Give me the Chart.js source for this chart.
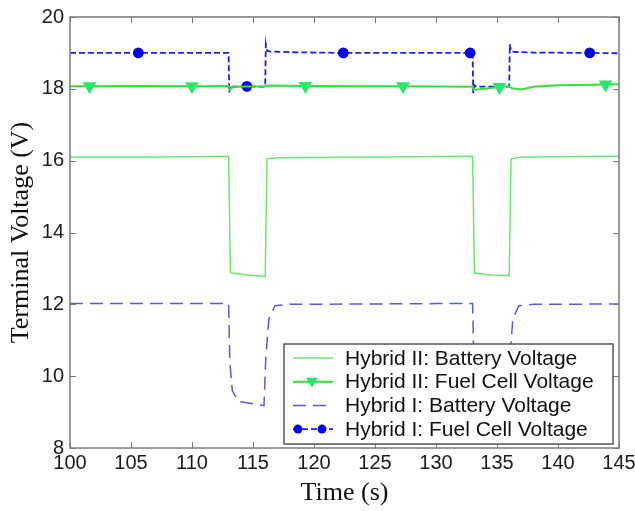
<!DOCTYPE html>
<html>
<head>
<meta charset="utf-8">
<script src="https://cdn.jsdelivr.net/npm/chart.js@4.4.0/dist/chart.umd.min.js"></script>
<style>
  html, body { margin: 0; padding: 0; background: #fff; }
</style>
</head>
<body>
<canvas id="chartVoltage" width="635" height="511"></canvas>
<script>
// Hybrid II: bateria
const timeBatt2 = [100, 105, 110, 113.0, 113.15, 114.5, 116.0, 116.15, 117, 125, 133.0, 133.15, 134.5, 136.0, 136.15, 137, 145];
const voltBatt2 = [16.1, 16.1, 16.11, 16.12, 12.88, 12.82, 12.78, 16.05, 16.08, 16.1, 16.12, 12.87, 12.82, 12.8, 16.05, 16.1, 16.12];

// Hybrid II: célula de combustível
const timeFuel2 = [100, 101.6, 105, 110, 113.0, 113.1, 113.4, 116.0, 116.2, 119.3, 125, 127.3, 133.0, 133.1, 135.2, 136.0, 136.2, 137, 138, 140, 143.9, 145];
const voltFuel2 = [18.07, 18.07, 18.08, 18.07, 18.08, 17.98, 18.06, 18.07, 18.09, 18.08, 18.07, 18.07, 18.06, 17.97, 18.05, 18.07, 18.02, 17.98, 18.06, 18.1, 18.12, 18.13];
const markFuel2 = [101.6, 110, 119.3, 127.3, 135.2, 143.9];

// Hybrid I: bateria
const timeBatt1 = [100, 113.0, 113.1, 113.3, 113.8, 115.9, 116.05, 116.3, 116.8, 118, 130, 133.0, 133.1, 133.3, 133.8, 135.9, 136.05, 136.3, 136.8, 138, 145];
const voltBatt1 = [12.02, 12.02, 10.4, 9.6, 9.3, 9.18, 10.5, 11.6, 11.96, 12.0, 12.02, 12.02, 10.4, 9.6, 9.3, 9.18, 10.5, 11.6, 11.96, 12.0, 12.01];

// Hybrid I: célula de combustível
const timeFuel1 = [100, 105.6, 113.0, 113.05, 113.15, 113.3, 114.5, 116.0, 116.05, 116.15, 116.4, 118, 122.4, 130, 132.8, 133.0, 133.05, 133.15, 133.3, 135, 136.0, 136.05, 136.15, 136.4, 138, 142.6, 145];
const voltFuel1 = [19.0, 19.0, 19.0, 17.9, 18.1, 18.06, 18.07, 18.06, 19.24, 19.06, 19.04, 19.02, 19.0, 19.0, 19.0, 19.0, 17.88, 18.1, 18.06, 18.06, 18.06, 19.24, 19.04, 19.03, 19.01, 19.0, 18.99];
const markFuel1 = [105.6, 114.5, 122.4, 132.8, 142.6];

const xTicks = [100, 105, 110, 115, 120, 125, 130, 135, 140, 145];
const yTicks = [8, 10, 12, 14, 16, 18, 20];

const legendLabels = [
  'Hybrid II: Battery Voltage',
  'Hybrid II: Fuel Cell Voltage',
  'Hybrid I: Battery Voltage',
  'Hybrid I: Fuel Cell Voltage'
];

const toPoints = (times, volts) => times.map((t, i) => ({ x: t, y: volts[i] }));
const markerRadius = (times, marks, r) => times.map(t => marks.includes(t) ? r : 0);

// frame + ticks para dentro (estilo matlab)
const framePlugin = {
  id: 'frame',
  afterDatasetsDraw(chart) {
    const { ctx, chartArea: a, scales } = chart;
    ctx.save();
    ctx.strokeStyle = '#7a7a7a';
    ctx.lineWidth = 1.5;
    ctx.strokeRect(a.left, a.top, a.right - a.left, a.bottom - a.top);
    ctx.lineWidth = 1;
    ctx.beginPath();
    xTicks.forEach(v => {
      const px = Math.round(scales.x.getPixelForValue(v)) + 0.5;
      ctx.moveTo(px, a.bottom); ctx.lineTo(px, a.bottom - 6);
      ctx.moveTo(px, a.top); ctx.lineTo(px, a.top + 6);
    });
    yTicks.forEach(v => {
      const py = Math.round(scales.y.getPixelForValue(v)) + 0.5;
      ctx.moveTo(a.left, py); ctx.lineTo(a.left + 6, py);
      ctx.moveTo(a.right, py); ctx.lineTo(a.right - 6, py);
    });
    ctx.stroke();
    ctx.restore();
  }
};

// legenda dentro do grafico
const legendPlugin = {
  id: 'boxLegend',
  afterDatasetsDraw(chart) {
    const { ctx, chartArea: a } = chart;
    const right = a.right - 6, bottom = a.bottom - 4;
    const left = right - 329, top = bottom - 100;
    ctx.save();
    ctx.fillStyle = '#fff';
    ctx.fillRect(left, top, right - left, bottom - top);
    ctx.strokeStyle = '#555';
    ctx.lineWidth = 1.5;
    ctx.strokeRect(left, top, right - left, bottom - top);

    chart.data.datasets.forEach((ds, i) => {
      const y = top + 14 + i * 23.7;
      const x0 = left + 9, x1 = left + 49;
      ctx.strokeStyle = ds.borderColor;
      ctx.lineWidth = ds.borderWidth;
      ctx.setLineDash(ds.borderDash || []);
      ctx.beginPath();
      ctx.moveTo(x0, y); ctx.lineTo(x1, y);
      ctx.stroke();
      ctx.setLineDash([]);
      ctx.fillStyle = ds.pointBackgroundColor;
      if (ds.pointStyle === 'triangle') {
        const cx = left + 28;
        ctx.beginPath();
        ctx.moveTo(cx - 6, y - 4); ctx.lineTo(cx + 6, y - 4); ctx.lineTo(cx, y + 6);
        ctx.closePath();
        ctx.fill();
      } else if (ds.pointStyle === 'circle') {
        [left + 14, left + 38].forEach(cx => {
          ctx.beginPath();
          ctx.arc(cx, y, 4.5, 0, Math.PI * 2);
          ctx.fill();
        });
      }
      ctx.fillStyle = '#111';
      ctx.font = '21px "Liberation Sans", Arial, sans-serif';
      ctx.textBaseline = 'middle';
      ctx.fillText(legendLabels[i], left + 61, y + 1);
    });
    ctx.restore();
  }
};

const ctx = document.getElementById('chartVoltage');
const chartVoltage = new Chart(ctx, {
  type: 'line',
  data: {
    datasets: [{
      label: legendLabels[0],
      data: toPoints(timeBatt2, voltBatt2),
      borderColor: '#6ae86a',
      borderWidth: 1.5,
      pointRadius: 0,
      pointBackgroundColor: '#6ae86a'
    },
    {
      label: legendLabels[1],
      data: toPoints(timeFuel2, voltFuel2),
      borderColor: '#35df35',
      borderWidth: 2,
      pointStyle: 'triangle',
      pointRotation: 180,
      pointRadius: markerRadius(timeFuel2, markFuel2, 6),
      pointBackgroundColor: '#2be66a',
      pointBorderColor: '#2be66a'
    },
    {
      label: legendLabels[2],
      data: toPoints(timeBatt1, voltBatt1),
      borderColor: '#5a5ae0',
      borderWidth: 1.5,
      borderDash: [13, 7],
      pointRadius: 0,
      pointBackgroundColor: '#5a5ae0'
    },
    {
      label: legendLabels[3],
      data: toPoints(timeFuel1, voltFuel1),
      borderColor: '#1f1fe0',
      borderWidth: 1.8,
      borderDash: [6, 3],
      pointStyle: 'circle',
      pointRadius: markerRadius(timeFuel1, markFuel1, 4.5),
      pointBackgroundColor: '#0000ee',
      pointBorderColor: '#0000ee'
    }]
  },
  plugins: [framePlugin, legendPlugin],
  options: {
    responsive: false,
    animation: false,
    layout: { padding: { top: 17, right: 16, left: 0, bottom: 0 } },
    plugins: {
      legend: { display: false },
      tooltip: { enabled: false }
    },
    elements: { line: { tension: 0 } },
    scales: {
      x: {
        type: 'linear',
        min: 100,
        max: 145,
        afterFit: (scale) => {
          scale.height = 63;
          scale.paddingLeft = 0;
          scale.paddingRight = 0;
        },
        afterBuildTicks: (scale) => { scale.ticks = xTicks.map(v => ({ value: v })); },
        grid: { display: false, drawTicks: false },
        border: { display: false },
        ticks: {
          padding: 3,
          color: '#1a1a1a',
          font: { family: '"Liberation Sans", Arial, sans-serif', size: 20 },
          maxRotation: 0
        },
        title: {
          display: true,
          text: 'Time (s)',
          color: '#111',
          font: { family: '"Liberation Serif", "Times New Roman", serif', size: 26 },
          padding: { top: 0, bottom: 2 }
        }
      },
      y: {
        min: 8,
        max: 20,
        afterFit: (scale) => {
          scale.width = 70;
          scale.paddingTop = 0;
          scale.paddingBottom = 0;
        },
        afterBuildTicks: (scale) => { scale.ticks = yTicks.map(v => ({ value: v })); },
        grid: { display: false, drawTicks: false },
        border: { display: false },
        ticks: {
          padding: 6,
          color: '#1a1a1a',
          font: { family: '"Liberation Sans", Arial, sans-serif', size: 20 }
        },
        title: {
          display: true,
          text: 'Terminal Voltage (V)',
          color: '#111',
          font: { family: '"Liberation Serif", "Times New Roman", serif', size: 26 },
          padding: { top: 6, bottom: 0 }
        }
      }
    }
  }
});
</script>
</body>
</html>
